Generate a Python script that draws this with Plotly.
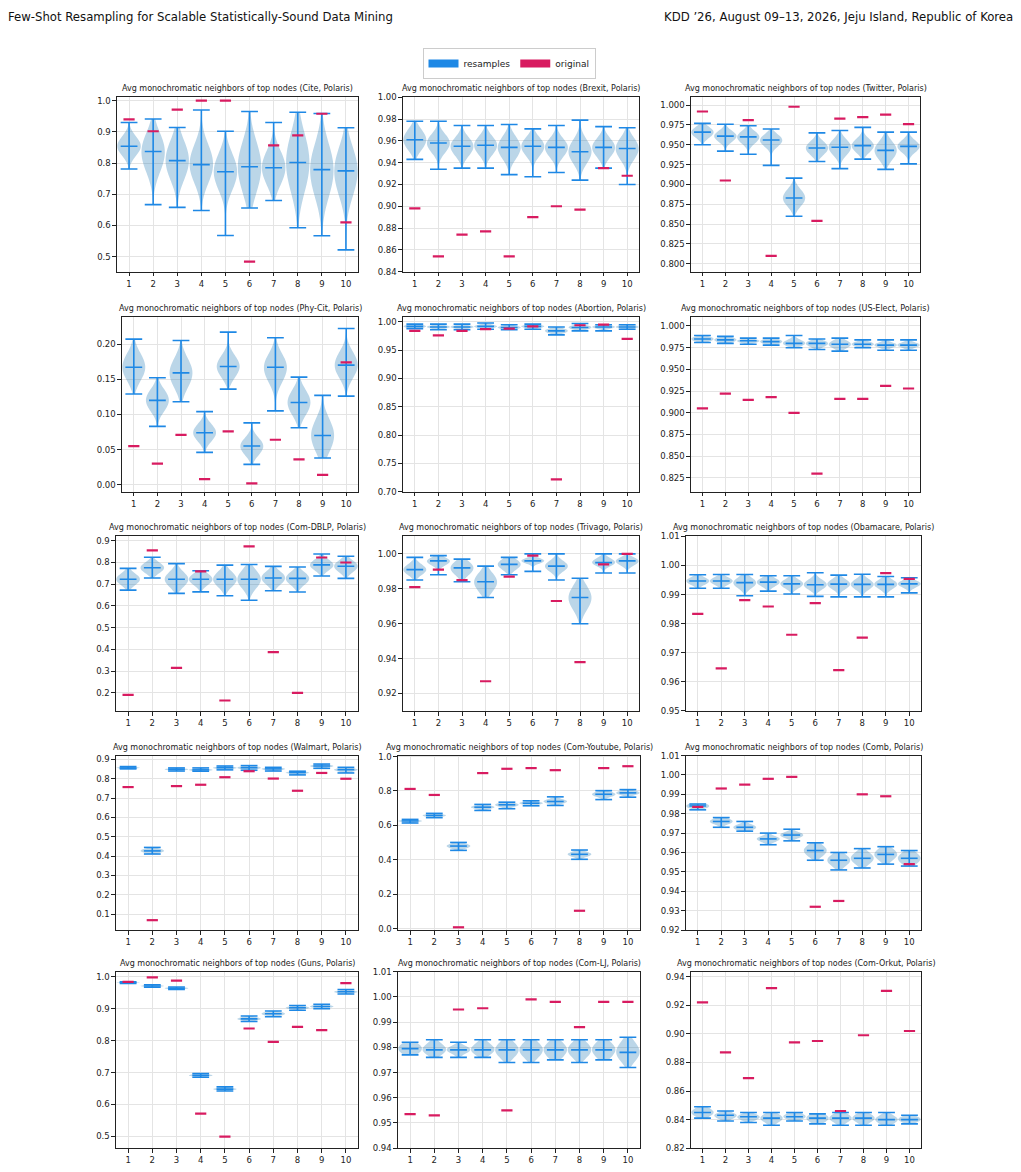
import plotly.graph_objects as go

# ---------------- data ----------------
POSITIONS = [1, 2, 3, 4, 5, 6, 7, 8, 9, 10]
TICK_LABELS = ["1", "2", "3", "4", "5", "6", "7", "8", "9", "10"]
DATASETS = ["Cite", "Brexit", "Twitter", "Phy-Cit", "Abortion", "US-Elect",
            "Com-DBLP", "Trivago", "Obamacare", "Walmart", "Com-Youtube", "Comb",
            "Guns", "Com-LJ", "Com-Orkut"]

cite_min = [0.781, 0.667, 0.658, 0.648, 0.568, 0.656, 0.680, 0.593, 0.567, 0.522]
cite_q1 = [0.835, 0.790, 0.770, 0.760, 0.735, 0.735, 0.750, 0.740, 0.720, 0.720]
cite_med = [0.854, 0.837, 0.808, 0.795, 0.772, 0.788, 0.785, 0.802, 0.779, 0.775]
cite_q3 = [0.875, 0.870, 0.850, 0.840, 0.810, 0.840, 0.820, 0.860, 0.830, 0.820]
cite_max = [0.930, 0.941, 0.914, 0.970, 0.902, 0.965, 0.930, 0.963, 0.959, 0.913]
cite_orig = [0.940, 0.902, 0.971, 1.000, 1.000, 0.484, 0.857, 0.889, 0.958, 0.610]

brexit_min = [0.943, 0.934, 0.935, 0.935, 0.929, 0.927, 0.931, 0.924, 0.935, 0.920]
brexit_q1 = [0.955, 0.952, 0.949, 0.950, 0.947, 0.949, 0.948, 0.943, 0.948, 0.946]
brexit_med = [0.961, 0.958, 0.955, 0.956, 0.954, 0.955, 0.954, 0.950, 0.954, 0.953]
brexit_q3 = [0.967, 0.963, 0.960, 0.961, 0.960, 0.960, 0.959, 0.957, 0.959, 0.959]
brexit_max = [0.978, 0.978, 0.974, 0.974, 0.975, 0.971, 0.974, 0.979, 0.973, 0.972]
brexit_orig = [0.898, 0.854, 0.874, 0.877, 0.854, 0.890, 0.900, 0.897, 0.935, 0.928]

twitter_min = [0.950, 0.942, 0.938, 0.924, 0.860, 0.929, 0.920, 0.932, 0.919, 0.926]
twitter_q1 = [0.961, 0.956, 0.954, 0.950, 0.876, 0.940, 0.940, 0.943, 0.935, 0.943]
twitter_med = [0.966, 0.961, 0.960, 0.956, 0.883, 0.946, 0.947, 0.949, 0.943, 0.948]
twitter_q3 = [0.970, 0.965, 0.964, 0.960, 0.890, 0.951, 0.953, 0.954, 0.950, 0.953]
twitter_max = [0.977, 0.976, 0.974, 0.970, 0.908, 0.965, 0.968, 0.972, 0.966, 0.966]
twitter_orig = [0.992, 0.905, 0.981, 0.810, 0.998, 0.854, 0.983, 0.985, 0.988, 0.976]

phycit_min = [0.129, 0.083, 0.118, 0.046, 0.136, 0.029, 0.105, 0.081, 0.038, 0.126]
phycit_q1 = [0.155, 0.110, 0.145, 0.066, 0.158, 0.046, 0.152, 0.105, 0.055, 0.158]
phycit_med = [0.167, 0.120, 0.159, 0.074, 0.168, 0.055, 0.167, 0.117, 0.070, 0.170]
phycit_q3 = [0.180, 0.130, 0.172, 0.082, 0.178, 0.062, 0.178, 0.128, 0.085, 0.182]
phycit_max = [0.207, 0.152, 0.205, 0.104, 0.217, 0.088, 0.209, 0.153, 0.127, 0.222]
phycit_orig = [0.055, 0.030, 0.071, 0.008, 0.076, 0.002, 0.064, 0.036, 0.014, 0.174]

abortion_min = [0.988, 0.986, 0.986, 0.987, 0.986, 0.987, 0.977, 0.984, 0.984, 0.987]
abortion_q1 = [0.990, 0.989, 0.989, 0.990, 0.988, 0.990, 0.981, 0.988, 0.989, 0.989]
abortion_med = [0.992, 0.991, 0.991, 0.992, 0.990, 0.992, 0.984, 0.990, 0.991, 0.991]
abortion_q3 = [0.994, 0.993, 0.993, 0.994, 0.992, 0.994, 0.987, 0.993, 0.993, 0.993]
abortion_max = [0.996, 0.996, 0.996, 0.998, 0.995, 0.996, 0.991, 0.997, 0.995, 0.995]
abortion_orig = [0.984, 0.976, 0.984, 0.987, 0.988, 0.992, 0.722, 0.994, 0.995, 0.970]

uselect_min = [0.981, 0.980, 0.979, 0.978, 0.975, 0.973, 0.971, 0.975, 0.972, 0.972]
uselect_q1 = [0.983, 0.982, 0.981, 0.980, 0.978, 0.977, 0.976, 0.977, 0.976, 0.976]
uselect_med = [0.985, 0.984, 0.983, 0.982, 0.980, 0.980, 0.979, 0.979, 0.978, 0.978]
uselect_q3 = [0.987, 0.986, 0.984, 0.984, 0.983, 0.982, 0.982, 0.981, 0.980, 0.980]
uselect_max = [0.989, 0.988, 0.986, 0.986, 0.989, 0.985, 0.986, 0.984, 0.984, 0.984]
uselect_orig = [0.905, 0.922, 0.915, 0.918, 0.900, 0.830, 0.916, 0.916, 0.931, 0.928]

dblp_min = [0.673, 0.729, 0.658, 0.665, 0.647, 0.626, 0.670, 0.664, 0.738, 0.727]
dblp_q1 = [0.705, 0.760, 0.700, 0.705, 0.700, 0.695, 0.708, 0.707, 0.772, 0.765]
dblp_med = [0.723, 0.776, 0.723, 0.723, 0.723, 0.723, 0.729, 0.727, 0.789, 0.783]
dblp_q3 = [0.740, 0.792, 0.745, 0.740, 0.745, 0.750, 0.748, 0.745, 0.805, 0.800]
dblp_max = [0.773, 0.824, 0.795, 0.762, 0.788, 0.791, 0.782, 0.779, 0.839, 0.829]
dblp_orig = [0.191, 0.856, 0.315, 0.759, 0.165, 0.874, 0.388, 0.200, 0.823, 0.800]

trivago_min = [0.985, 0.988, 0.984, 0.975, 0.988, 0.990, 0.985, 0.960, 0.989, 0.989]
trivago_q1 = [0.989, 0.994, 0.989, 0.980, 0.992, 0.995, 0.991, 0.970, 0.994, 0.994]
trivago_med = [0.991, 0.996, 0.992, 0.984, 0.994, 0.996, 0.993, 0.975, 0.995, 0.996]
trivago_q3 = [0.993, 0.997, 0.994, 0.987, 0.996, 0.997, 0.995, 0.979, 0.997, 0.997]
trivago_max = [0.998, 0.999, 0.997, 0.993, 0.998, 1.000, 1.000, 0.986, 1.000, 1.000]
trivago_orig = [0.981, 0.991, 0.985, 0.927, 0.987, 0.999, 0.973, 0.938, 0.994, 1.000]

obama_min = [0.9922, 0.9922, 0.9896, 0.9912, 0.9902, 0.9894, 0.9892, 0.9892, 0.9892, 0.9906]
obama_q1 = [0.9938, 0.9938, 0.9928, 0.9933, 0.9927, 0.9924, 0.9925, 0.9924, 0.9925, 0.9929]
obama_med = [0.9947, 0.9947, 0.9941, 0.9943, 0.9937, 0.9934, 0.9936, 0.9935, 0.9935, 0.9937]
obama_q3 = [0.9955, 0.9955, 0.9952, 0.9952, 0.9947, 0.9946, 0.9947, 0.9947, 0.9946, 0.9945]
obama_max = [0.9968, 0.9969, 0.9969, 0.9965, 0.9965, 0.9975, 0.9967, 0.9970, 0.9962, 0.9958]
obama_orig = [0.9834, 0.9646, 0.9881, 0.9859, 0.9762, 0.9871, 0.9640, 0.9752, 0.9974, 0.9954]

walmart_min = [0.851, 0.411, 0.840, 0.839, 0.846, 0.844, 0.840, 0.820, 0.854, 0.830]
walmart_q1 = [0.854, 0.420, 0.845, 0.843, 0.852, 0.851, 0.846, 0.827, 0.861, 0.840]
walmart_med = [0.856, 0.427, 0.849, 0.846, 0.857, 0.857, 0.851, 0.832, 0.866, 0.847]
walmart_q3 = [0.859, 0.435, 0.852, 0.850, 0.861, 0.862, 0.855, 0.835, 0.870, 0.852]
walmart_max = [0.863, 0.445, 0.856, 0.856, 0.866, 0.868, 0.859, 0.839, 0.876, 0.859]
walmart_orig = [0.757, 0.069, 0.762, 0.769, 0.808, 0.839, 0.801, 0.738, 0.830, 0.800]

youtube_min = [0.614, 0.645, 0.455, 0.687, 0.697, 0.714, 0.716, 0.403, 0.750, 0.764]
youtube_q1 = [0.621, 0.652, 0.470, 0.699, 0.711, 0.723, 0.730, 0.422, 0.770, 0.780]
youtube_med = [0.626, 0.658, 0.480, 0.706, 0.720, 0.729, 0.739, 0.432, 0.781, 0.789]
youtube_q3 = [0.630, 0.663, 0.490, 0.713, 0.727, 0.735, 0.748, 0.442, 0.790, 0.797]
youtube_max = [0.635, 0.670, 0.501, 0.722, 0.735, 0.743, 0.766, 0.457, 0.802, 0.808]
youtube_orig = [0.812, 0.777, 0.008, 0.904, 0.929, 0.933, 0.921, 0.104, 0.933, 0.944]

comb_min = [0.982, 0.973, 0.971, 0.964, 0.966, 0.956, 0.951, 0.952, 0.954, 0.953]
comb_q1 = [0.983, 0.975, 0.972, 0.966, 0.968, 0.959, 0.954, 0.955, 0.957, 0.955]
comb_med = [0.984, 0.976, 0.973, 0.967, 0.969, 0.961, 0.956, 0.957, 0.959, 0.957]
comb_q3 = [0.985, 0.977, 0.974, 0.968, 0.970, 0.963, 0.958, 0.959, 0.961, 0.959]
comb_max = [0.985, 0.978, 0.976, 0.970, 0.972, 0.965, 0.960, 0.962, 0.963, 0.961]
comb_orig = [0.9835, 0.993, 0.995, 0.998, 0.999, 0.932, 0.935, 0.990, 0.989, 0.954]

guns_min = [0.979, 0.967, 0.960, 0.685, 0.642, 0.860, 0.875, 0.895, 0.900, 0.946]
guns_q1 = [0.981, 0.970, 0.962, 0.689, 0.646, 0.865, 0.880, 0.900, 0.904, 0.950]
guns_med = [0.982, 0.971, 0.964, 0.691, 0.648, 0.868, 0.884, 0.903, 0.907, 0.953]
guns_q3 = [0.983, 0.973, 0.966, 0.694, 0.651, 0.872, 0.888, 0.906, 0.910, 0.956]
guns_max = [0.984, 0.975, 0.968, 0.697, 0.655, 0.877, 0.893, 0.910, 0.914, 0.960]
guns_orig = [0.984, 0.998, 0.988, 0.571, 0.499, 0.838, 0.796, 0.843, 0.833, 0.980]

lj_min = [0.977, 0.976, 0.976, 0.976, 0.974, 0.974, 0.975, 0.974, 0.975, 0.972]
lj_q1 = [0.978, 0.978, 0.978, 0.978, 0.977, 0.977, 0.977, 0.977, 0.977, 0.976]
lj_med = [0.9795, 0.979, 0.979, 0.979, 0.979, 0.979, 0.979, 0.979, 0.979, 0.978]
lj_q3 = [0.981, 0.981, 0.980, 0.981, 0.981, 0.981, 0.981, 0.981, 0.981, 0.981]
lj_max = [0.982, 0.983, 0.982, 0.983, 0.983, 0.983, 0.983, 0.983, 0.983, 0.984]
lj_orig = [0.9535, 0.953, 0.995, 0.9955, 0.955, 0.999, 0.998, 0.988, 0.998, 0.998]

orkut_min = [0.841, 0.839, 0.838, 0.836, 0.839, 0.837, 0.836, 0.836, 0.836, 0.837]
orkut_q1 = [0.843, 0.841, 0.840, 0.839, 0.841, 0.839, 0.839, 0.839, 0.838, 0.839]
orkut_med = [0.845, 0.843, 0.842, 0.841, 0.842, 0.841, 0.841, 0.841, 0.840, 0.840]
orkut_q3 = [0.847, 0.844, 0.843, 0.843, 0.844, 0.843, 0.843, 0.843, 0.842, 0.842]
orkut_max = [0.849, 0.846, 0.845, 0.845, 0.845, 0.844, 0.845, 0.845, 0.845, 0.843]
orkut_orig = [0.922, 0.887, 0.869, 0.932, 0.894, 0.895, 0.846, 0.899, 0.930, 0.902]

PANEL_DATA = [
    (cite_min, cite_q1, cite_med, cite_q3, cite_max, cite_orig),
    (brexit_min, brexit_q1, brexit_med, brexit_q3, brexit_max, brexit_orig),
    (twitter_min, twitter_q1, twitter_med, twitter_q3, twitter_max, twitter_orig),
    (phycit_min, phycit_q1, phycit_med, phycit_q3, phycit_max, phycit_orig),
    (abortion_min, abortion_q1, abortion_med, abortion_q3, abortion_max, abortion_orig),
    (uselect_min, uselect_q1, uselect_med, uselect_q3, uselect_max, uselect_orig),
    (dblp_min, dblp_q1, dblp_med, dblp_q3, dblp_max, dblp_orig),
    (trivago_min, trivago_q1, trivago_med, trivago_q3, trivago_max, trivago_orig),
    (obama_min, obama_q1, obama_med, obama_q3, obama_max, obama_orig),
    (walmart_min, walmart_q1, walmart_med, walmart_q3, walmart_max, walmart_orig),
    (youtube_min, youtube_q1, youtube_med, youtube_q3, youtube_max, youtube_orig),
    (comb_min, comb_q1, comb_med, comb_q3, comb_max, comb_orig),
    (guns_min, guns_q1, guns_med, guns_q3, guns_max, guns_orig),
    (lj_min, lj_q1, lj_med, lj_q3, lj_max, lj_orig),
    (orkut_min, orkut_q1, orkut_med, orkut_q3, orkut_max, orkut_orig),
]

# ---------------- axis styling (ranges / ticks) ----------------
Y_RANGES = [[0.452, 1.011], [0.84, 1.0], [0.790, 1.010],
            [-0.010, 0.238], [0.70, 1.008], [0.809, 1.010],
            [0.117, 0.920], [0.910, 1.010], [0.95, 1.01],
            [0.018, 0.920], [-0.008, 1.006], [0.92, 1.01],
            [0.463, 1.016], [0.94, 1.01], [0.82, 0.9435]]
Y_TICKS = [(0.5, 0.1, ".1f"), (0.84, 0.02, ".2f"), (0.8, 0.025, ".3f"),
           (0.0, 0.05, ".2f"), (0.7, 0.05, ".2f"), (0.825, 0.025, ".3f"),
           (0.2, 0.1, ".1f"), (0.92, 0.02, ".2f"), (0.95, 0.01, ".2f"),
           (0.1, 0.1, ".1f"), (0.0, 0.2, ".1f"), (0.92, 0.01, ".2f"),
           (0.5, 0.1, ".1f"), (0.94, 0.01, ".2f"), (0.82, 0.02, ".2f")]

W, H = 1021, 1172
COL_LR = [
    [(117, 358), (403, 639), (691, 920)],
    [(122, 358), (403, 639), (691, 920)],
    [(116, 358), (403, 639), (686, 921)],
    [(116, 358), (398, 640), (686, 921)],
    [(116, 358), (398, 640), (691, 921)],
]
ROW_TB = [(93, 269), (315, 491), (536, 712), (757, 933), (975, 1153)]

BLUE = "#1E88E5"
RED = "#D81B60"
FILL = "rgba(31,119,180,0.30)"
FONT = "DejaVu Sans"

fig = go.Figure()
layout = {}
annotations = []

for k, name in enumerate(DATASETS):
    r, c = divmod(k, 3)
    sfx = "" if k == 0 else str(k + 1)
    xa, ya = "x" + sfx, "y" + sfx
    mins, q1s, meds, q3s, maxs, orig = PANEL_DATA[k]

    # violin bodies: density from the central values, span limited to [min, max]
    for i, p in enumerate(POSITIONS):
        vals = [q1s[i], meds[i], q3s[i]]
        fig.add_trace(go.Violin(
            x=[p] * len(vals), y=vals, xaxis=xa, yaxis=ya,
            width=0.97, scalemode="width", spanmode="manual",
            span=[mins[i], maxs[i]],
            bandwidth=(q3s[i] - q1s[i]) * 0.6,
            points=False, box_visible=False, meanline_visible=False,
            fillcolor=FILL, line=dict(width=0, color=FILL),
            showlegend=False, hoverinfo="skip"))

    # vertical whisker lines
    lx, ly = [], []
    for i, p in enumerate(POSITIONS):
        lx += [p, p, None]
        ly += [mins[i], maxs[i], None]
    fig.add_trace(go.Scatter(x=lx, y=ly, xaxis=xa, yaxis=ya, mode="lines",
                             line=dict(color=BLUE, width=1.6),
                             showlegend=False, hoverinfo="skip"))
    # caps (min, median, max)
    fig.add_trace(go.Scatter(
        x=POSITIONS * 3, y=list(mins) + list(meds) + list(maxs),
        xaxis=xa, yaxis=ya, mode="markers",
        marker=dict(symbol="line-ew", size=12, color=BLUE,
                    line=dict(color=BLUE, width=1.6)),
        showlegend=False, hoverinfo="skip"))
    # original values
    fig.add_trace(go.Scatter(
        x=POSITIONS, y=orig, xaxis=xa, yaxis=ya, mode="markers",
        marker=dict(symbol="line-ew", size=8, color=RED,
                    line=dict(color=RED, width=2.2)),
        showlegend=False, hoverinfo="skip"))

    left, right = COL_LR[r][c]
    top, bot = ROW_TB[r]
    axis_common = dict(showline=True, linecolor="#222222", linewidth=1.2, mirror=True,
                       ticks="outside", ticklen=3.5, tickwidth=0.8, tickcolor="#222222",
                       showgrid=True, gridcolor="#e4e4e4", gridwidth=0.8,
                       zeroline=False, tickfont=dict(family=FONT, size=8.5, color="#222222"))
    layout["xaxis" + sfx] = dict(axis_common, domain=[left / W, right / W], anchor=ya,
                                 range=[0.5, 10.5], tickmode="array",
                                 tickvals=POSITIONS, ticktext=TICK_LABELS)
    t0, dt, fmt = Y_TICKS[k]
    layout["yaxis" + sfx] = dict(axis_common, domain=[1 - bot / H, 1 - top / H], anchor=xa,
                                 range=Y_RANGES[k], tick0=t0, dtick=dt, tickformat=fmt)
    annotations.append(dict(
        text=f"Avg monochromatic neighbors of top nodes ({name}, Polaris)",
        x=(left + right) / 2 / W, y=1 - (top - 2) / H, xref="paper", yref="paper",
        xanchor="center", yanchor="bottom", showarrow=False,
        font=dict(family=FONT, size=8, color="#222222")))

# legend entries (rectangular patches via thick legend lines)
fig.add_trace(go.Scatter(x=[None], y=[None], name="resamples", mode="lines",
                         line=dict(color=BLUE, width=8), showlegend=True))
fig.add_trace(go.Scatter(x=[None], y=[None], name="original", mode="lines",
                         line=dict(color=RED, width=8), showlegend=True))

HEAD_FONT = "Liberation Sans Narrow, DejaVu Sans Condensed, Liberation Sans, sans-serif"
annotations.append(dict(text="Few-Shot Resampling for Scalable Statistically-Sound Data Mining",
                        x=6 / W, y=1 - 12 / H, xref="paper", yref="paper",
                        xanchor="left", yanchor="middle", showarrow=False,
                        font=dict(family=HEAD_FONT, size=13, color="#111111")))
annotations.append(dict(text="KDD ’26, August 09–13, 2026, Jeju Island, Republic of Korea",
                        x=1015 / W, y=1 - 12 / H, xref="paper", yref="paper",
                        xanchor="right", yanchor="middle", showarrow=False,
                        font=dict(family=HEAD_FONT, size=13, color="#111111")))

fig.update_layout(
    width=W, height=H, autosize=False,
    margin=dict(l=0, r=0, t=0, b=0),
    paper_bgcolor="white", plot_bgcolor="white",
    violinmode="overlay",
    annotations=annotations,
    legend=dict(orientation="h", x=509 / W, y=1 - 59 / H, xanchor="center", yanchor="middle",
                bordercolor="#cccccc", borderwidth=1, bgcolor="white",
                font=dict(family=FONT, size=9, color="#222222"),
                tracegroupgap=0),
    **layout,
)

fig.write_html("out.html")
